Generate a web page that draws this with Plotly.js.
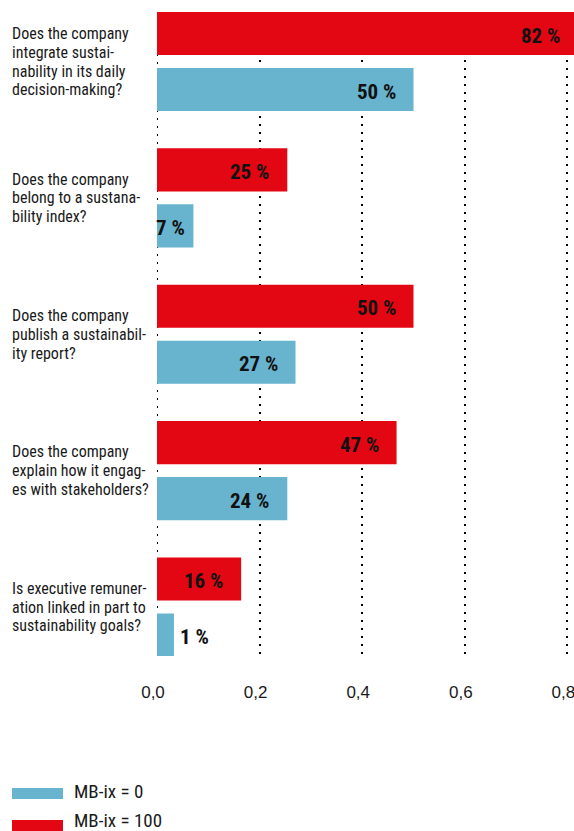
<!DOCTYPE html>
<html>
<head>
<meta charset="utf-8">
<script src="https://cdn.plot.ly/plotly-3.0.1.min.js"></script>
<style>
html, body { margin: 0; padding: 0; overflow: hidden; background: #fff; }
#chart { width: 580px; height: 831px; }
</style>
</head>
<body>
<div id="chart"></div>
<script>
// ---- data ----
var categories = [
  "Does the company<br>integrate sustai-<br>nability in its daily<br>decision-making?",
  "Does the company<br>belong to a sustana-<br>bility index?",
  "Does the company<br>publish a sustainabil-<br>ity report?",
  "Does the company<br>explain how it engag-<br>es with stakeholders?",
  "Is executive remuner-<br>ation linked in part to<br>sustainability goals?"
];
var seriesNames = ["MB-ix = 100", "MB-ix = 0"];
var mb100Values = [0.82, 0.254, 0.50, 0.467, 0.164];
var mb0Values = [0.50, 0.071, 0.27, 0.254, 0.033];
var mb100Labels = ["82 %", "25 %", "50 %", "47 %", "16 %"];
var mb0Labels = ["50 %", "7 %", "27 %", "24 %", "1 %"];
var tickValues = [0, 0.2, 0.4, 0.6, 0.8];

// ---- styles ----
var RED = "#e30613";
var BLUE = "#68b4cf";
var COND = "Roboto Condensed, DejaVu Sans Condensed, sans-serif";
var W = 580, H = 831;
var L = 157, T = 12, B = 175, R = 0;
var plotW = W - L - R, plotH = H - T - B;
var PXPERUNIT = 513;
var DOTS = "2px,6px";

function px2x(p) { return (p - L) / plotW; }
function py2y(p) { return (H - B - p) / plotH; }

var traces = [
  { type: "bar", orientation: "h", name: seriesNames[0], y: categories, x: mb100Values,
    marker: { color: RED }, hoverinfo: "skip" },
  { type: "bar", orientation: "h", name: seriesNames[1], y: categories, x: mb0Values,
    marker: { color: BLUE }, hoverinfo: "skip" }
];

var annotations = [];
function addLabels(values, labels, shiftY) {
  for (var i = 0; i < values.length; i++) {
    var v = values[i];
    var a = { x: v, y: categories[i], xref: "x", yref: "y", text: labels[i], showarrow: false,
      yanchor: "middle", yshift: shiftY,
      font: { family: COND, size: 21, color: "#111111", weight: "bold" } };
    if (v >= 0.12) { a.xanchor = "right"; a.xshift = -16; }
    else if (v >= 0.05) { a.xanchor = "right"; a.xshift = -6; }
    else { a.xanchor = "left"; a.xshift = 4; }
    annotations.push(a);
  }
}
addLabels(mb100Values, mb100Labels, 28 - 2);
addLabels(mb0Values, mb0Labels, -28 - 2);

// legend (drawn manually: blue first, then red)
var legendItems = [
  { name: seriesNames[1], color: BLUE, top: 788, bottom: 799, textY: 791.5 },
  { name: seriesNames[0], color: RED, top: 820, bottom: 831, textY: 821 }
];
var shapes = [
  // dotted line at x = 0 (grid line at the axis start)
  { type: "line", xref: "x", yref: "paper", x0: 0, x1: 0, y0: 0, y1: 1, layer: "below",
    line: { color: "#000000", width: 2, dash: DOTS } }
];
legendItems.forEach(function (it) {
  shapes.push({ type: "rect", xref: "paper", yref: "paper",
    x0: px2x(12), x1: px2x(63), y0: py2y(it.bottom), y1: py2y(it.top),
    fillcolor: it.color, line: { width: 0 } });
  annotations.push({ xref: "paper", yref: "paper", x: px2x(72), y: py2y(it.textY),
    xanchor: "left", yanchor: "middle", showarrow: false, text: it.name,
    font: { family: COND, size: 19, color: "#1a1a1a" } });
});

var s = (607 - 61.5) / 4;
var layout = {
  width: W, height: H,
  margin: { l: L, r: R, t: T, b: B, pad: 0 },
  paper_bgcolor: "#ffffff", plot_bgcolor: "#ffffff",
  barmode: "group", bargap: 0.1787, bargroupgap: 0.232,
  showlegend: false,
  separators: ",.",
  xaxis: {
    range: [0, plotW / PXPERUNIT], autorange: false,
    tickvals: tickValues, tickformat: ".1f",
    showgrid: true, gridcolor: "#000000", gridwidth: 2, griddash: DOTS,
    zeroline: false, showline: false, ticks: "",
    ticklabelstandoff: 24, ticklabelshift: -4,
    tickfont: { family: "Liberation Sans, Arial, sans-serif", size: 17, color: "#1a1a1a" },
    automargin: false, fixedrange: true
  },
  yaxis: {
    type: "category",
    range: [4 + (656 - 607) / s, -(61.5 - 12) / s], autorange: false,
    showgrid: false, zeroline: false, showline: false, ticks: "",
    tickfont: { family: COND, size: 16, color: "#1a1a1a" },
    automargin: false, fixedrange: true
  },
  annotations: annotations,
  shapes: shapes
};

// left-align the multi-line category labels, with a tighter leading than Plotly's default
function fixLabels(gd) {
  var texts = gd.querySelectorAll("g.ytick text");
  texts.forEach(function (t) {
    var lines = t.querySelectorAll("tspan.line");
    if (!lines.length) return;
    var b1 = t.getBBox();
    var c1 = b1.y + b1.height / 2;
    lines.forEach(function (l, i) { l.setAttribute("dy", (i * 1.18) + "em"); });
    t.setAttribute("text-anchor", "start");
    var b2 = t.getBBox();
    var c2 = b2.y + b2.height / 2;
    var y = parseFloat(t.getAttribute("y")) + (c1 - c2);
    var ctm = t.getScreenCTM();
    var x = (12 - ctm.e) / ctm.a;
    t.setAttribute("x", x); t.setAttribute("y", y);
    lines.forEach(function (l) { l.setAttribute("x", x); l.setAttribute("y", y); });
  });
}

Plotly.newPlot("chart", traces, layout, { staticPlot: true, responsive: false, displayModeBar: false })
  .then(function (gd) { fixLabels(gd); });
</script>
</body>
</html>
